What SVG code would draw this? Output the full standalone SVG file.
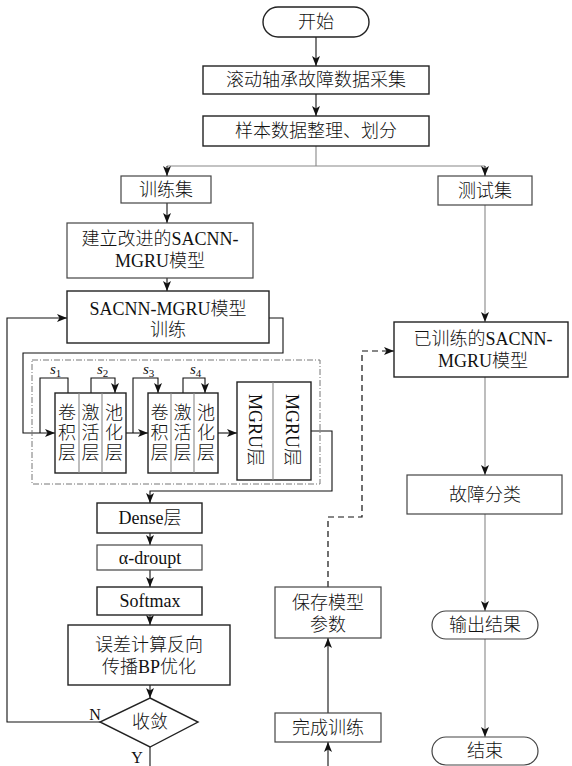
<svg xmlns="http://www.w3.org/2000/svg" width="572" height="766" viewBox="0 0 572 766">
<style>
  .t { font-family: "Liberation Serif", "Noto Sans CJK SC", serif; font-size: 18px; font-weight: 300; fill: #111; text-anchor: middle; dominant-baseline: central; }
  .l { font-weight: 400; }
  .box { fill: #fff; stroke: #222; stroke-width: 1.4; }
  .gbox { fill: #fff; stroke: #444; stroke-width: 1.2; }
  .ln { fill: none; stroke: #111; stroke-width: 1.1; }
  .gl { fill: none; stroke: #888; stroke-width: 1.1; }
  .dash { fill: none; stroke: #111; stroke-width: 1.2; stroke-dasharray: 6 4; }
  .dd { fill: none; stroke: #777; stroke-width: 1; stroke-dasharray: 6 2 1 2; }
  .div { stroke: #888; stroke-width: 1.1; }
  .lab { font-family: "Liberation Serif", serif; font-size: 16px; fill: #111; }
  .s { font-family: "Liberation Serif", serif; font-size: 15px; font-style: italic; fill: #111; }
</style>
<defs>
  <marker id="ar" markerUnits="userSpaceOnUse" markerWidth="11" markerHeight="9" refX="10" refY="4" orient="auto">
    <path d="M0,0 L10,4 L0,8 L2.5,4 Z" fill="#111"/>
  </marker>
</defs>

<g id="connectors">
  <line class="ln" x1="316" y1="37" x2="316" y2="66" marker-end="url(#ar)"/>
  <line class="ln" x1="316" y1="94" x2="316" y2="116" marker-end="url(#ar)"/>
  <polyline class="gl" points="316,146 316,166"/>
  <polyline class="gl" points="167,166 485,166"/>
  <line class="ln" x1="167" y1="166" x2="167" y2="176" marker-end="url(#ar)"/>
  <line class="ln" x1="485" y1="166" x2="485" y2="176" marker-end="url(#ar)"/>
  <line class="ln" x1="167" y1="203" x2="167" y2="223" marker-end="url(#ar)"/>
  <line class="ln" x1="167" y1="278" x2="167" y2="291" marker-end="url(#ar)"/>
  <polyline class="ln" points="269,318 283,318 283,353 23,353 23,433 55,433" marker-end="url(#ar)"/>
  <polyline class="ln" points="40,433 40,378 68,378 68,393"/>
  <polyline class="ln" points="91,393 91,378 115,378 115,393" marker-end="url(#ar)"/>
  <line class="ln" x1="126" y1="433" x2="148" y2="433" marker-end="url(#ar)"/>
  <polyline class="ln" points="133,433 133,378 158,378 158,393" marker-end="url(#ar)"/>
  <polyline class="ln" points="183,393 183,378 205,378 205,393" marker-end="url(#ar)"/>
  <line class="ln" x1="218" y1="433" x2="237" y2="433" marker-end="url(#ar)"/>
  <polyline class="ln" points="311,431 332,431 332,491 150,491 150,503" marker-end="url(#ar)"/>
  <line class="ln" x1="150" y1="533" x2="150" y2="545" marker-end="url(#ar)"/>
  <line class="ln" x1="150" y1="570" x2="150" y2="587" marker-end="url(#ar)"/>
  <line class="ln" x1="150" y1="615" x2="150" y2="625" marker-end="url(#ar)"/>
  <line class="ln" x1="150" y1="685" x2="150" y2="698" marker-end="url(#ar)"/>
  <polyline class="ln" points="100,722 7,722 7,318 67,318" marker-end="url(#ar)"/>
  <line class="ln" x1="150" y1="747" x2="150" y2="766"/>
  <line class="gl" x1="485" y1="205" x2="485" y2="322" marker-end="url(#ar)"/>
  <line class="gl" x1="485" y1="377" x2="485" y2="475" marker-end="url(#ar)"/>
  <line class="gl" x1="485" y1="514" x2="485" y2="611" marker-end="url(#ar)"/>
  <line class="gl" x1="485" y1="639" x2="485" y2="737" marker-end="url(#ar)"/>
  <line class="ln" x1="328" y1="766" x2="328" y2="742" marker-end="url(#ar)"/>
  <line class="ln" x1="328" y1="713" x2="328" y2="638" marker-end="url(#ar)"/>
  <polyline class="dash" points="328,587 328,517 362,517 362,351 394,351" marker-end="url(#ar)"/>
  <text class="lab" x="95" y="720" text-anchor="middle">N</text>
  <text class="lab" x="137" y="763" text-anchor="middle">Y</text>
</g>

<g id="start"><rect class="box" x="263" y="7" width="106" height="30" rx="15"/><text class="t" x="316" y="22">开始</text></g>
<g id="collect"><rect class="box" x="203" y="66" width="226" height="28"/><text class="t" x="316" y="80">滚动轴承故障数据采集</text></g>
<g id="split"><rect class="box" x="203" y="116" width="226" height="30"/><text class="t" x="316" y="131">样本数据整理、划分</text></g>
<g id="trainset"><rect class="gbox" x="121" y="176" width="90" height="27"/><text class="t" x="166" y="190">训练集</text></g>
<g id="testset"><rect class="gbox" x="438" y="176" width="94" height="29"/><text class="t" x="485" y="191">测试集</text></g>
<g id="build"><rect class="gbox" x="67" y="223" width="186" height="55"/><text class="t" x="160" y="239">建立改进的<tspan class="l">SACNN-</tspan></text><text class="t" x="160" y="261"><tspan class="l">MGRU</tspan>模型</text></g>
<g id="train"><rect class="box" x="67" y="291" width="202" height="52"/><text class="t" x="168" y="309"><tspan class="l">SACNN-MGRU</tspan>模型</text><text class="t" x="168" y="330">训练</text></g>

<g id="block">
  <rect class="dd" x="32" y="360" width="288" height="124"/>
  <g id="conv1">
    <rect class="box" x="55" y="393" width="71" height="80"/>
    <line class="div" x1="79" y1="393" x2="79" y2="473"/>
    <line class="div" x1="102" y1="393" x2="102" y2="473"/>
    <text class="t"><tspan x="67" y="413">卷</tspan><tspan x="67" y="433">积</tspan><tspan x="67" y="453">层</tspan></text>
    <text class="t"><tspan x="90.5" y="413">激</tspan><tspan x="90.5" y="433">活</tspan><tspan x="90.5" y="453">层</tspan></text>
    <text class="t"><tspan x="114" y="413">池</tspan><tspan x="114" y="433">化</tspan><tspan x="114" y="453">层</tspan></text>
  </g>
  <g id="conv2">
    <rect class="box" x="148" y="393" width="70" height="80"/>
    <line class="div" x1="171" y1="393" x2="171" y2="473"/>
    <line class="div" x1="194" y1="393" x2="194" y2="473"/>
    <text class="t"><tspan x="159.5" y="413">卷</tspan><tspan x="159.5" y="433">积</tspan><tspan x="159.5" y="453">层</tspan></text>
    <text class="t"><tspan x="182.5" y="413">激</tspan><tspan x="182.5" y="433">活</tspan><tspan x="182.5" y="453">层</tspan></text>
    <text class="t"><tspan x="206" y="413">池</tspan><tspan x="206" y="433">化</tspan><tspan x="206" y="453">层</tspan></text>
  </g>
  <g id="mgru">
    <rect class="box" x="237" y="382" width="74" height="98"/>
    <line class="div" x1="273" y1="382" x2="273" y2="480"/>
    <text class="t" transform="translate(255,430) rotate(90)"><tspan class="l">MGRU</tspan>层</text>
    <text class="t" transform="translate(292,430) rotate(90)"><tspan class="l">MGRU</tspan>层</text>
  </g>
  <text class="s" x="50" y="374">s<tspan font-size="11" font-style="normal" dy="3">1</tspan></text>
  <text class="s" x="97" y="374">s<tspan font-size="11" font-style="normal" dy="3">2</tspan></text>
  <text class="s" x="143" y="374">s<tspan font-size="11" font-style="normal" dy="3">3</tspan></text>
  <text class="s" x="190" y="374">s<tspan font-size="11" font-style="normal" dy="3">4</tspan></text>
</g>

<g id="dense"><rect class="box" x="97" y="503" width="105" height="30"/><text class="t" x="150" y="518"><tspan class="l">Dense</tspan>层</text></g>
<g id="dropout"><rect class="gbox" x="97" y="545" width="105" height="25"/><text class="t l" x="150" y="557.5">α-droupt</text></g>
<g id="softmax"><rect class="box" x="97" y="587" width="105" height="28"/><text class="t l" x="150" y="601">Softmax</text></g>
<g id="bp"><rect class="box" x="68" y="625" width="162" height="60"/><text class="t" x="149" y="645">误差计算反向</text><text class="t" x="149" y="667">传播<tspan class="l">BP</tspan>优化</text></g>
<g id="converge"><polygon class="box" points="150,698 198,722 150,747 100,722"/><text class="t" x="150" y="722">收敛</text></g>

<g id="trained"><rect class="box" x="394" y="322" width="174" height="55"/><text class="t" x="483" y="339">已训练的<tspan class="l">SACNN-</tspan></text><text class="t" x="483" y="361"><tspan class="l">MGRU</tspan>模型</text></g>
<g id="classify"><rect class="gbox" x="407" y="475" width="155" height="39"/><text class="t" x="485" y="495">故障分类</text></g>
<g id="output"><rect class="gbox" x="432" y="611" width="106" height="28" rx="14"/><text class="t" x="485" y="625">输出结果</text></g>
<g id="end"><rect class="gbox" x="432" y="737" width="106" height="28" rx="14"/><text class="t" x="485" y="751">结束</text></g>
<g id="save"><rect class="gbox" x="275" y="587" width="106" height="51"/><text class="t" x="328" y="603">保存模型</text><text class="t" x="328" y="625">参数</text></g>
<g id="done"><rect class="gbox" x="275" y="713" width="106" height="29"/><text class="t" x="328" y="728">完成训练</text></g>
</svg>
